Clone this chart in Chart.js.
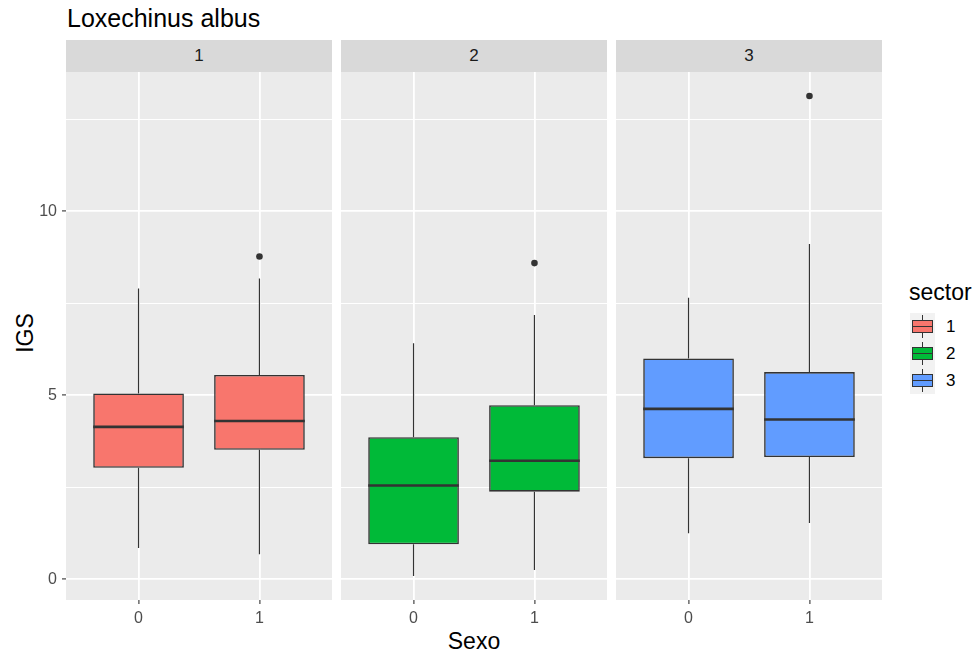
<!DOCTYPE html>
<html>
<head>
<meta charset="utf-8">
<script src="https://cdn.jsdelivr.net/npm/chart.js@4.4.1/dist/chart.umd.min.js"></script>
<style>
  body { margin: 0; background: #fff; font-family: "Liberation Sans", Arial, sans-serif; }
  #wrap { position: relative; width: 976px; height: 654px; overflow: hidden; background: #fff; }
  #title { position: absolute; left: 67px; top: 4px; font-size: 25px; color: #000; white-space: nowrap; }
  .strip { position: absolute; top: 40px; height: 32px; width: 266px; background: #D9D9D9;
           color: #1A1A1A; font-size: 17px; line-height: 32px; text-align: center; }
  canvas { position: absolute; top: 72px; }
  #ytitle { position: absolute; left: 25px; top: 333px; font-size: 23px; color: #000;
            transform: translate(-50%, -50%) rotate(-90deg); white-space: nowrap; }
  #xtitle { position: absolute; left: 474px; top: 641px; font-size: 23px; color: #000;
            transform: translate(-50%, -50%); white-space: nowrap; }
  #legend { position: absolute; left: 909px; top: 279px; }
  #legend .ltitle { font-size: 23px; color: #000; margin-bottom: 7px; }
  .lrow { position: relative; height: 27px; }
  .lkey { position: absolute; left: 1px; top: 0; width: 25px; height: 27px; background: #F2F2F2; }
  .lkey .wh { position: absolute; left: 12px; top: 2px; width: 1px; height: 23px; background: #333; }
  .lkey .bx { position: absolute; left: 2px; top: 7px; width: 19px; height: 11px; border: 1px solid #333; }
  .lkey .md { position: absolute; left: 2px; top: 12.5px; width: 21px; height: 1.5px; background: #333; }
  .lrow .ltext { position: absolute; left: 37px; top: 4px; font-size: 17px; color: #000; }
</style>
</head>
<body>
<div id="wrap">
  <div id="title">Loxechinus albus</div>
  <div id="ytitle">IGS</div>
  <div id="xtitle">Sexo</div>
  <div id="legend"><div class="ltitle">sector</div></div>
</div>
<script>
// ------------------------------------------------------------
// DATA
// ------------------------------------------------------------
const sectors = ["1", "2", "3"];
const sexo = ["0", "1"];
const sectorColors = ["#F8766D", "#00BA38", "#619CFF"];

// one value per sexo, per sector
const whiskerLow  = [[0.85, 0.68], [0.09, 0.25], [1.25, 1.53]];
const q1          = [[3.03, 3.52], [0.95, 2.38], [3.29, 3.32]];
const median      = [[4.14, 4.30], [2.55, 3.22], [4.63, 4.34]];
const q3          = [[5.05, 5.55], [3.86, 4.73], [6.00, 5.63]];
const whiskerHigh = [[7.90, 8.17], [6.41, 7.18], [7.65, 9.11]];
const outliers    = [[[], [8.77]], [[], [8.59]], [[], [13.13]]];

const yTicks = [0, 2.5, 5, 7.5, 10, 12.5];

// ------------------------------------------------------------
// LAYOUT
// ------------------------------------------------------------
const PANEL_LEFT = [66, 341, 616];
const PANEL_W = 266;
const PANEL_H = 528;
const AXIS_H = 32;

Chart.defaults.font.family = "'Liberation Sans', Arial, sans-serif";

// y range like ggplot: data range plus 5% each side
const allValues = whiskerLow.flat().concat(whiskerHigh.flat(), outliers.flat(2));
const yMinData = Math.min(...allValues);
const yMaxData = Math.max(...allValues);
const yPad = (yMaxData - yMinData) * 0.05;

// ------------------------------------------------------------
// PLUGIN: panel background, whiskers and medians
// ------------------------------------------------------------
const boxExtras = {
  id: "boxExtras",
  beforeDraw(chart) {
    const a = chart.chartArea;
    const ctx = chart.ctx;
    ctx.save();
    ctx.fillStyle = "#EBEBEB";
    ctx.fillRect(a.left, a.top, a.right - a.left, a.bottom - a.top);
    ctx.restore();
  },
  afterDatasetDraw(chart, args, opts) {
    if (args.index !== 0) return;
    const i = opts.sector;
    const y = chart.scales.y;
    const ctx = chart.ctx;

    ctx.save();
    args.meta.data.forEach((bar, j) => {
      const half = bar.width / 2;

      // whiskers
      ctx.strokeStyle = "#333333";
      ctx.lineWidth = 1.2;
      ctx.beginPath();
      ctx.moveTo(bar.x, y.getPixelForValue(q3[i][j]));
      ctx.lineTo(bar.x, y.getPixelForValue(whiskerHigh[i][j]));
      ctx.moveTo(bar.x, y.getPixelForValue(q1[i][j]));
      ctx.lineTo(bar.x, y.getPixelForValue(whiskerLow[i][j]));
      ctx.stroke();

      // median
      ctx.lineWidth = 2.6;
      ctx.beginPath();
      ctx.moveTo(bar.x - half, y.getPixelForValue(median[i][j]));
      ctx.lineTo(bar.x + half, y.getPixelForValue(median[i][j]));
      ctx.stroke();
    });
    ctx.restore();
  }
};

// ------------------------------------------------------------
// PANELS
// ------------------------------------------------------------
function isMajor(v) {
  return v % 5 === 0;
}

function noPadding(scale) {
  scale.paddingTop = 0;
  scale.paddingBottom = 0;
  scale.paddingLeft = 0;
  scale.paddingRight = 0;
}

function makePanel(i) {
  const wrap = document.getElementById("wrap");
  const showY = i === 0;

  const strip = document.createElement("div");
  strip.className = "strip";
  strip.style.left = PANEL_LEFT[i] + "px";
  strip.textContent = sectors[i];
  wrap.appendChild(strip);

  const left = showY ? 0 : PANEL_LEFT[i];
  const canvas = document.createElement("canvas");
  canvas.width = PANEL_LEFT[i] + PANEL_W - left;
  canvas.height = PANEL_H + AXIS_H;
  canvas.style.left = left + "px";
  wrap.appendChild(canvas);

  const boxData = sexo.map((s, j) => ({ x: j, y: [q1[i][j], q3[i][j]] }));
  const outlierData = [];
  sexo.forEach((s, j) => {
    outliers[i][j].forEach(v => outlierData.push({ x: j, y: v }));
  });

  return new Chart(canvas, {
    type: "bar",
    data: {
      datasets: [
        {
          type: "bar",
          data: boxData,
          backgroundColor: sectorColors[i],
          borderColor: "#333333",
          borderWidth: 1.6,
          borderSkipped: false,
          categoryPercentage: 0.75,
          barPercentage: 1
        },
        {
          type: "scatter",
          data: outlierData,
          pointRadius: 3.3,
          pointBackgroundColor: "#333333",
          pointBorderWidth: 0
        }
      ]
    },
    options: {
      responsive: false,
      animation: false,
      devicePixelRatio: 1,
      layout: { padding: 0, autoPadding: false },
      plugins: {
        legend: { display: false },
        tooltip: { enabled: false },
        boxExtras: { sector: i }
      },
      scales: {
        x: {
          type: "linear",
          min: -0.6,
          max: 1.6,
          offset: false,
          afterBuildTicks: scale => {
            scale.ticks = sexo.map((s, j) => ({ value: j }));
          },
          afterFit: scale => {
            scale.height = AXIS_H;
            noPadding(scale);
          },
          border: { display: false },
          grid: {
            offset: false,
            color: "#FFFFFF",
            lineWidth: 1.8,
            tickColor: "#333333",
            tickLength: 4,
            tickWidth: 1.1
          },
          ticks: {
            color: "#4D4D4D",
            font: { size: 16 },
            padding: 5,
            maxRotation: 0,
            callback: (v, idx) => sexo[idx]
          }
        },
        y: {
          type: "linear",
          min: yMinData - yPad,
          max: yMaxData + yPad,
          afterBuildTicks: scale => {
            scale.ticks = yTicks.map(v => ({ value: v }));
          },
          afterFit: scale => {
            scale.width = showY ? PANEL_LEFT[0] : 0;
            noPadding(scale);
          },
          border: { display: false },
          grid: {
            color: "#FFFFFF",
            lineWidth: ctx => (ctx.tick && isMajor(ctx.tick.value) ? 1.8 : 1),
            drawTicks: showY,
            tickLength: 4,
            tickWidth: 1.1,
            tickColor: ctx => (ctx.tick && isMajor(ctx.tick.value) ? "#333333" : "rgba(0,0,0,0)")
          },
          ticks: {
            display: showY,
            color: "#4D4D4D",
            font: { size: 16 },
            padding: 5,
            callback: v => (isMajor(v) ? String(v) : "")
          }
        }
      }
    },
    plugins: [boxExtras]
  });
}

// ------------------------------------------------------------
// LEGEND
// ------------------------------------------------------------
function buildLegend() {
  const legend = document.getElementById("legend");
  sectors.forEach((s, i) => {
    const row = document.createElement("div");
    row.className = "lrow";
    row.innerHTML =
      '<div class="lkey"><div class="wh"></div>' +
      '<div class="bx" style="background:' + sectorColors[i] + '"></div>' +
      '<div class="md"></div></div>' +
      '<div class="ltext">' + s + "</div>";
    legend.appendChild(row);
  });
}

sectors.forEach((s, i) => makePanel(i));
buildLegend();
</script>
</body>
</html>
